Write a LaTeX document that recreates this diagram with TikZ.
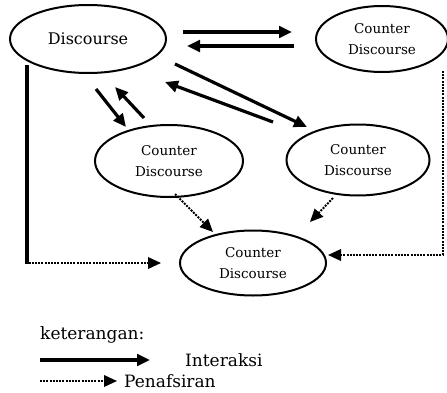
\documentclass[tikz,border=0pt]{standalone}
\usepackage{fontspec}
\setmainfont{DejaVu Serif}
\usetikzlibrary{calc,positioning,arrows.meta,shapes.geometric}
\tikzset{
  >={Triangle[length=13pt,width=11.5pt]},
  bigellipse/.style={
    ellipse,
    draw=black, line width=2pt,
    inner sep=0pt,
    minimum width=156pt,
    minimum height=68pt,
    font=\fontsize{16}{18}\selectfont},
  smallellipse/.style={
    ellipse,
    draw=black, line width=2pt,
    inner sep=0pt,
    align=center,
    font=\fontsize{13.5}{21}\selectfont},
  interaksi/.style={draw, ->, line width=3.2pt},
  penafsiran/.style={draw, ->, line width=2pt, dash pattern=on 2pt off 1.2pt},
  legend/.style={
    inner sep=0pt,
    anchor=west,
    font=\fontsize{17}{20}\selectfont},
}
\begin{document}
\begin{tikzpicture}[x=1pt,y=1pt]
\useasboundingbox (0,0) rectangle (447,392);

\node[bigellipse] (disc) at (88,353) {Discourse};

\node[smallellipse, minimum width=132pt, minimum height=66pt,
  right of=disc, node distance=294pt] (ctop) {Counter\\Discourse};

\node[smallellipse, minimum width=148pt, minimum height=72pt] (cleft) at (169,231) {Counter\\Discourse};

\node[smallellipse, minimum width=143pt, minimum height=71pt] (cright) at (358,232) {Counter\\Discourse};

\node[smallellipse, minimum width=146pt, minimum height=65pt] (cbot) at (253,129) {Counter\\Discourse};

% interaksi
\draw[interaksi, shorten <=16pt, shorten >=23pt] ([yshift=7pt]disc.east) -- ([yshift=7pt]ctop.west);
\draw[interaksi, shorten <=21pt, shorten >=20pt] ([yshift=-7pt]ctop.west) -- ([yshift=-7pt]disc.east);
\draw[interaksi] ($(disc)+(87,-25)$) -- ($(cright)+(-51,33)$);
\draw[interaksi] ($(cright)+(-85,38)$) -- ($(disc)+(77,-43)$);
\draw[interaksi] ($(disc)+(8,-50)$) -- ($(cleft)+(-43,34)$);
\draw[interaksi] ($(cleft)+(-25,43)$) -- ($(disc)+(27,-48)$);

% penafsiran
\draw[penafsiran] ($(cleft)+(6,-33)$) -- ($(cbot)+(-40,31)$);
\draw[penafsiran] ($(cright)+(-25,-38)$) -- ($(cbot)+(57,41)$);

\coordinate (lcorner) at ([xshift=-61pt]disc.center |- cbot.center);
\draw[line width=3.2pt] ([xshift=-61pt,yshift=-26pt]disc.center) -- ([yshift=-1pt]lcorner);
\draw[penafsiran] ([xshift=1.6pt]lcorner) -- ([xshift=-18pt]cbot.west);

\coordinate (rlevel) at ([yshift=8pt]cbot.east);
\coordinate (rcorner) at ([xshift=61pt]ctop.center |- rlevel);
\draw[penafsiran] ([xshift=61pt,yshift=-32pt]ctop.center) -- (rcorner) -- ([xshift=1pt]rlevel);

% keterangan
\node[legend] (ket) at (40,57) {keterangan:};
\node[legend] (lint) at (185,32) {Interaksi};
\node[legend] (lpen) at (124,11) {Penafsiran};

\draw[interaksi] (ket.west |- lint.west) -- ([xshift=-35pt]lint.west);
\draw[penafsiran] (ket.west |- lpen.west) -- ([xshift=-7pt]lpen.west);

\end{tikzpicture}
\end{document}
